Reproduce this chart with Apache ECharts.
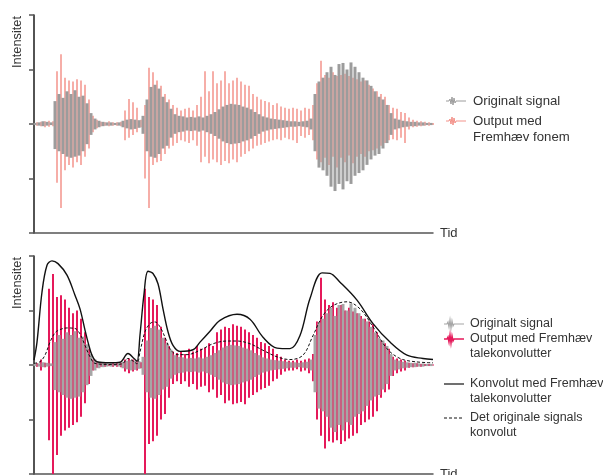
<!DOCTYPE html>
<html><head><meta charset="utf-8">
<script src="https://cdn.jsdelivr.net/npm/echarts@6/dist/echarts.min.js"></script>
<style>html,body{margin:0;padding:0;background:#fff}#c{width:603px;height:475px}</style>
</head><body><div id="c"></div>
<script>
// Original signal (same in both panels): per-sample max / min
const greyHi = [0.02,0.03,0.05,0.04,0.03,
 0.42,0.55,0.48,0.6,0.55,0.62,0.5,0.52,0.38,0.2,0.1,0.06,
 0.04,0.03,0.03,0.02,0.03,
 0.06,0.08,0.09,0.08,0.07,
 0.15,0.45,0.68,0.72,0.65,0.5,0.4,0.28,0.18,0.15,
 0.14,0.12,0.13,0.12,0.14,0.12,0.15,0.18,
 0.22,0.27,0.32,0.35,0.37,0.36,0.35,0.32,0.3,0.27,0.22,0.18,0.14,0.12,
 0.1,0.09,0.08,0.07,0.06,
 0.05,0.05,0.04,0.05,0.06,0.1,
 0.55,0.78,0.85,0.95,1.05,0.9,1.1,1.12,1.0,1.13,1.05,0.95,0.85,0.8,0.7,0.6,0.5,0.45,0.35,0.2,0.1,
 0.08,0.06,0.05,0.04,0.04,0.03,0.03,0.02,0.02];
const greyLo = [-0.02,-0.03,-0.04,-0.03,-0.02,
 -0.46,-0.5,-0.55,-0.6,-0.62,-0.6,-0.58,-0.5,-0.37,-0.2,-0.1,-0.06,
 -0.04,-0.03,-0.03,-0.02,-0.03,
 -0.06,-0.08,-0.1,-0.09,-0.07,
 -0.18,-0.5,-0.6,-0.62,-0.55,-0.45,-0.4,-0.25,-0.18,-0.15,
 -0.14,-0.12,-0.13,-0.12,-0.14,-0.12,-0.15,-0.18,
 -0.22,-0.27,-0.32,-0.35,-0.37,-0.36,-0.35,-0.32,-0.3,-0.27,-0.22,-0.18,-0.14,-0.12,
 -0.1,-0.09,-0.08,-0.07,-0.06,
 -0.05,-0.05,-0.04,-0.05,-0.06,-0.1,
 -0.5,-0.8,-0.85,-0.95,-1.15,-1.23,-1.1,-1.2,-1.05,-1.1,-0.95,-0.9,-0.85,-0.75,-0.65,-0.58,-0.55,-0.45,-0.35,-0.2,-0.1,
 -0.08,-0.06,-0.05,-0.04,-0.04,-0.03,-0.03,-0.02,-0.02];
// Output med Fremhæv fonem (top panel)
const redTopHi = [0.03,0.04,0.05,0.06,0.05,
 0.97,1.28,0.85,0.8,0.78,0.82,0.8,0.72,0.45,0.15,0.08,
 0.04,0.03,0.05,0.03,0.03,0.04,
 0.25,0.46,0.4,0.3,0.08,
 0.35,1.03,0.95,0.8,0.7,0.55,0.45,0.35,0.3,0.25,0.28,0.3,0.25,0.35,0.5,
 0.97,0.6,0.97,0.75,0.8,0.97,0.75,0.8,0.85,0.78,0.72,0.7,
 0.55,0.5,0.45,0.42,0.4,0.35,0.38,0.32,0.3,0.28,0.3,0.28,0.25,0.3,0.28,0.35,
 0.75,1.16,0.9,0.85,0.95,0.88,0.9,0.92,0.88,0.85,0.82,0.78,0.8,0.72,0.65,0.6,0.55,0.5,0.35,0.3,0.28,0.22,0.2,0.12,0.08,
 0.06,0.05,0.04,0.03,0.02];
const redTopLo = [-0.03,-0.04,-0.06,-0.05,-0.04,
 -1.08,-1.54,-0.85,-0.75,-0.8,-0.7,-0.75,-0.6,-0.45,-0.15,-0.08,
 -0.04,-0.03,-0.04,-0.03,-0.03,-0.04,
 -0.3,-0.25,-0.2,-0.15,-0.06,
 -1.0,-1.54,-0.75,-0.7,-0.68,-0.55,-0.45,-0.4,-0.35,-0.3,-0.32,-0.35,-0.3,-0.4,-0.7,
 -0.6,-0.72,-0.65,-0.7,-0.75,-0.68,-0.72,-0.65,-0.7,-0.6,-0.55,-0.5,
 -0.45,-0.4,-0.38,-0.35,-0.32,-0.3,-0.28,-0.3,-0.25,-0.28,-0.3,-0.35,-0.22,-0.25,-0.2,-0.3,
 -0.65,-0.7,-0.62,-0.75,-0.6,-0.8,-0.62,-0.7,-0.58,-0.72,-0.6,-0.55,-0.6,-0.5,-0.48,-0.45,-0.4,-0.35,-0.3,-0.28,-0.3,-0.25,-0.35,-0.1,-0.06,
 -0.05,-0.04,-0.03,-0.03,-0.02];
// Output med Fremhæv talekonvolutter (bottom panel)
const redBotHi = [0.03,0.1,0.04,1.4,1.67,
 1.25,1.28,1.2,1.05,0.95,1.0,0.85,0.6,0.3,0.1,0.05,
 0.03,0.03,0.02,0.03,0.03,0.04,
 0.1,0.12,0.1,0.08,0.05,
 1.4,1.25,1.2,1.1,0.7,0.5,0.35,0.25,0.22,0.25,0.2,0.3,0.25,0.35,0.3,
 0.32,0.4,0.35,0.6,0.65,0.7,0.68,0.75,0.72,0.7,0.65,0.6,
 0.55,0.5,0.42,0.4,0.35,0.3,0.2,0.15,0.1,0.08,0.08,0.1,0.08,0.1,0.12,0.2,
 0.8,1.6,1.2,1.1,1.15,1.05,1.1,1.0,1.05,0.98,0.95,0.9,0.85,0.8,0.75,0.6,0.45,0.4,0.3,0.15,0.12,0.1,0.08,0.04,0.03,
 0.03,0.02,0.02,0.02,0.01];
const redBotLo = [-0.03,-0.1,-0.04,-1.38,-2.0,
 -1.65,-1.3,-1.2,-1.15,-1.1,-1.05,-0.95,-0.7,-0.35,-0.1,-0.05,
 -0.03,-0.03,-0.02,-0.03,-0.03,-0.04,
 -0.12,-0.15,-0.12,-0.1,-0.06,
 -2.0,-1.45,-1.4,-1.3,-1.0,-0.9,-0.6,-0.35,-0.3,-0.35,-0.3,-0.4,-0.35,-0.45,-0.4,
 -0.38,-0.5,-0.45,-0.6,-0.55,-0.7,-0.65,-0.72,-0.7,-0.68,-0.72,-0.6,
 -0.55,-0.5,-0.45,-0.42,-0.38,-0.3,-0.25,-0.18,-0.12,-0.1,-0.1,-0.08,-0.12,-0.1,-0.15,-0.3,
 -1.0,-1.3,-1.53,-1.4,-1.42,-1.38,-1.45,-1.4,-1.35,-1.3,-1.25,-1.1,-1.05,-1.0,-0.95,-0.85,-0.6,-0.5,-0.45,-0.2,-0.15,-0.12,-0.1,-0.05,-0.04,
 -0.03,-0.03,-0.02,-0.02,-0.01];
// Envelopes (time, value)
const envBoostT = [0,3,8,13,18,24,33,41,46,51,54,58,63,76,86,94,100,103,106,110,114,119,124,129,134,139,146,159,166,176,186,203,216,229,243,256,266,276,288,296,306,323,339,356,373,389,399];
const envBoost  = [0.09,0.42,1.34,1.83,1.91,1.86,1.65,1.28,1.03,0.64,0.42,0.18,0.06,0.04,0.05,0.21,0.12,0.07,0.55,1.3,1.72,1.68,1.49,1.03,0.61,0.36,0.25,0.28,0.42,0.62,0.82,0.93,0.84,0.51,0.31,0.3,0.54,1.22,1.69,1.68,1.52,1.19,0.76,0.42,0.18,0.12,0.1];
const envOrigT = [0,6,11,16,21,26,33,41,46,51,56,61,76,88,94,100,103,106,111,116,121,126,131,136,143,153,166,179,193,203,216,229,243,256,269,279,289,299,313,326,339,353,366,381,399];
const envOrig  = [0.03,0.06,0.18,0.42,0.59,0.65,0.68,0.67,0.57,0.36,0.15,0.03,0.01,0.02,0.12,0.06,0.02,0.24,0.61,0.76,0.79,0.7,0.51,0.3,0.19,0.19,0.27,0.39,0.44,0.44,0.39,0.27,0.15,0.1,0.18,0.54,0.91,1.09,1.16,1.03,0.7,0.3,0.12,0.06,0.04];

const FONT = "'Liberation Sans', Arial, sans-serif";
const TXT = '#333333';
const chart = echarts.init(document.getElementById('c'), null, {renderer:'canvas'});

function samples(hi, lo, offset){ return hi.map((h,i)=>[i*4+offset, lo[i], h]); }
function waveSeries(xi, data, color, width){
  return {type:'custom', xAxisIndex:xi, yAxisIndex:xi, data, encode:{x:0,y:[1,2]}, silent:true,
    renderItem:(p,api)=>{const x=api.value(0); const a=api.coord([x,api.value(1)]); const b=api.coord([x,api.value(2)]);
      return {type:'line', shape:{x1:a[0],y1:a[1],x2:b[0],y2:b[1]}, style:{stroke:color, lineWidth:width}};}};
}
function xAx(gi){ return {type:'value', gridIndex:gi, min:0, max:399, axisLine:{show:true,onZero:false,lineStyle:{color:'#555',width:1.5}}, axisTick:{show:false}, axisLabel:{show:false}, splitLine:{show:false}}; }
function yAx(gi){ return {type:'value', gridIndex:gi, min:-2, max:2, interval:1, axisLine:{show:true,onZero:false,lineStyle:{color:'#1a1a1a',width:1.5}}, axisTick:{show:true,length:5,lineStyle:{color:'#555',width:1.5}}, axisLabel:{show:false}, splitLine:{show:false}}; }

function waveIcon(x, y, color, w){
  return {type:'polyline', shape:{points:[[x,y],[x+3,y],[x+4,y-2],[x+5,y+3],[x+6,y-4],[x+7,y+4],[x+8,y-3],[x+9,y+2],[x+10,y],[x+20,y]]}, style:{stroke:color, lineWidth:w, fill:null}};
}
function txt(x, y, s, size){ return {type:'text', x, y, style:{text:s, font:(size||12.5)+'px '+FONT, fill:TXT, textAlign:'left', textVerticalAlign:'middle'}}; }

const option = {
  animation:false,
  backgroundColor:'#fff',
  grid:[{left:34, top:15, width:399, height:218}, {left:34, top:256, width:399, height:218}],
  xAxis:[xAx(0), xAx(1)],
  yAxis:[yAx(0), yAx(1)],
  series:[
    waveSeries(0, samples(redTopHi, redTopLo, 3), 'rgba(240,120,110,0.6)', 2),
    waveSeries(0, samples(greyHi, greyLo, 1), '#9c9c9c', 3),
    waveSeries(1, samples(redBotHi, redBotLo, 3), '#e5195a', 2),
    waveSeries(1, samples(greyHi, greyLo, 1), '#a6a6a6', 3),
    {type:'line', xAxisIndex:1, yAxisIndex:1, data:envBoostT.map((t,i)=>[t,envBoost[i]]), smooth:0.35, showSymbol:false, silent:true, lineStyle:{color:'#111', width:1.4}},
    {type:'line', xAxisIndex:1, yAxisIndex:1, data:envOrigT.map((t,i)=>[t,envOrig[i]]), smooth:0.35, showSymbol:false, silent:true, lineStyle:{color:'#111', width:1, type:[3,2]}}
  ],
  graphic:[
    {type:'text', x:17, y:42, rotation:Math.PI/2, style:{text:'Intensitet', font:'12.8px '+FONT, fill:TXT, textAlign:'center', textVerticalAlign:'middle'}},
    {type:'text', x:17, y:283, rotation:Math.PI/2, style:{text:'Intensitet', font:'12.8px '+FONT, fill:TXT, textAlign:'center', textVerticalAlign:'middle'}},
    txt(440, 233, 'Tid', 13),
    txt(440, 474, 'Tid', 13),
    waveIcon(446, 101, '#9c9c9c', 1),
    txt(473, 101, 'Originalt signal', 13.2),
    waveIcon(446, 121, 'rgba(240,120,110,0.8)', 1),
    txt(473, 121, 'Output med', 13.2),
    txt(473, 137, 'Fremhæv fonem', 13.2),
    waveIcon(444, 324, '#a6a6a6', 1.2),
    txt(470, 324, 'Originalt signal'),
    waveIcon(444, 339, '#e5195a', 1.5),
    txt(470, 339, 'Output med Fremhæv'),
    txt(470, 354, 'talekonvolutter'),
    {type:'line', shape:{x1:444, y1:384, x2:464, y2:384}, style:{stroke:'#111', lineWidth:1.2}},
    txt(470, 384, 'Konvolut med Fremhæv'),
    txt(470, 399, 'talekonvolutter'),
    {type:'line', shape:{x1:444, y1:418, x2:464, y2:418}, style:{stroke:'#111', lineWidth:1, lineDash:[3,2]}},
    txt(470, 418, 'Det originale signals'),
    txt(470, 433, 'konvolut')
  ]
};
chart.setOption(option);
</script>
</body></html>
